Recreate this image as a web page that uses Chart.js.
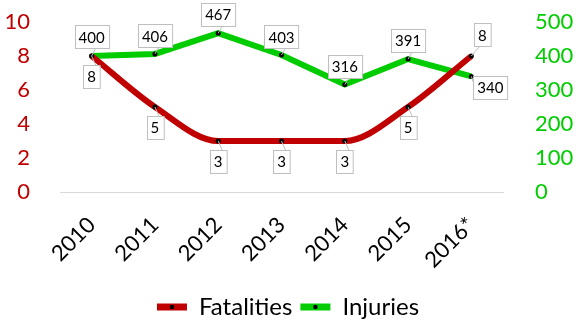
<!DOCTYPE html>
<html>
<head>
<meta charset="utf-8">
<script src="https://cdn.jsdelivr.net/npm/chart.js@4"></script>
<style>
  html, body { margin: 0; padding: 0; background: #fff; }
  #wrap { width: 576px; height: 336px; }
</style>
</head>
<body>
<div id="wrap"><canvas id="myChart"></canvas></div>
<script>
// data
const years = ['2010', '2011', '2012', '2013', '2014', '2015', '2016*'];
const fatalities = [8, 5, 3, 3, 3, 5, 8];
const injuries = [400, 406, 467, 403, 316, 391, 340];
const leftTicks = [0, 2, 4, 6, 8, 10];
const rightTicks = [0, 100, 200, 300, 400, 500];

const RED = '#C00000';
const GREEN = '#00CC00';
const FONT = 'Lato, "Open Sans", sans-serif';

// label offsets (dx, dy) from the point, per dataset
const labelPos = [
  [[0, 20], [0, 20], [0, 20], [0, 20], [0, 20], [0, 20], [11, -21]],
  [[0, -19], [0, -18], [0, -19], [0, -18], [0, -18], [0, -19], [19, 11]]
];

// callout boxes with values + dots on the legend lines
const calloutPlugin = {
  id: 'callouts',
  afterDatasetsDraw(chart) {
    const ctx = chart.ctx;
    ctx.save();
    ctx.font = '15px ' + FONT;
    ctx.textAlign = 'center';
    ctx.textBaseline = 'middle';
    chart.data.datasets.forEach((ds, di) => {
      const meta = chart.getDatasetMeta(di);
      meta.data.forEach((pt, i) => {
        const txt = String(ds.data[i]);
        const w = ctx.measureText(txt).width + 8;
        const h = 23;
        const cx = pt.x + labelPos[di][i][0];
        const cy = pt.y + labelPos[di][i][1];
        const left = Math.round(cx - w / 2), top = Math.round(cy - h / 2);
        ctx.strokeStyle = '#bfbfbf';
        ctx.lineWidth = 1;
        ctx.beginPath();
        const ex = Math.max(left + 2, Math.min(left + w - 2, pt.x));
        const ey = pt.y < top ? top : top + h;
        ctx.moveTo(pt.x, pt.y);
        ctx.lineTo(ex + (pt.x <= cx ? 4 : -4), ey);
        ctx.stroke();
        ctx.fillStyle = '#fff';
        ctx.fillRect(left, top, w, h);
        ctx.strokeRect(left + 0.5, top + 0.5, w, h);
        ctx.fillStyle = '#000';
        ctx.fillText(txt, cx, cy + 1);
      });
    });
    ctx.restore();
  },
  afterDraw(chart) {
    const lg = chart.legend;
    if (!lg || !lg.legendHitBoxes) return;
    const ctx = chart.ctx;
    ctx.save();
    ctx.fillStyle = '#000';
    lg.legendHitBoxes.forEach(b => {
      ctx.beginPath();
      ctx.arc(b.left + 15, b.top + b.height / 2, 2.2, 0, Math.PI * 2);
      ctx.fill();
    });
    ctx.restore();
  }
};

const data = {
  labels: years,
  datasets: [
    {
      label: 'Fatalities',
      data: fatalities,
      yAxisID: 'y',
      borderColor: RED,
      backgroundColor: RED,
      borderWidth: 6,
      cubicInterpolationMode: 'monotone',
      pointRadius: 2.5,
      pointBackgroundColor: '#000',
      pointBorderColor: '#000',
      pointBorderWidth: 0
    },
    {
      label: 'Injuries',
      data: injuries,
      yAxisID: 'y1',
      borderColor: GREEN,
      backgroundColor: GREEN,
      borderWidth: 6,
      tension: 0,
      pointRadius: 2.5,
      pointBackgroundColor: '#000',
      pointBorderColor: '#000',
      pointBorderWidth: 0
    }
  ]
};

const config = {
  type: 'line',
  data: data,
  options: {
    responsive: true,
    maintainAspectRatio: false,
    animation: false,
    layout: { padding: { top: 22, bottom: 7, left: 0, right: 0 } },
    plugins: {
      legend: {
        position: 'bottom',
        labels: {
          font: { family: FONT, size: 24 },
          color: '#000',
          boxWidth: 30,
          boxHeight: 7,
          useBorderRadius: true,
          borderRadius: 3.5,
          padding: 8,
          generateLabels(chart) {
            return chart.data.datasets.map((ds, i) => ({
              text: ds.label,
              fillStyle: ds.borderColor,
              strokeStyle: ds.borderColor,
              lineWidth: 0,
              fontColor: '#000',
              hidden: false,
              datasetIndex: i
            }));
          }
        }
      },
      tooltip: { enabled: false }
    },
    scales: {
      x: {
        offset: true,
        grid: { display: false, drawTicks: false },
        border: { display: true, color: '#d9d9d9', width: 1 },
        ticks: {
          color: '#000',
          font: { family: FONT, size: 22 },
          maxRotation: 45,
          minRotation: 45,
          padding: 20
        },
        afterFit(s) { s.height = 95; s.paddingLeft = 0; s.paddingRight = 0; }
      },
      y: {
        position: 'left',
        min: 0, max: 10,
        afterBuildTicks(s) { s.ticks = leftTicks.map(v => ({ value: v })); },
        grid: { display: false },
        border: { display: false },
        ticks: { color: RED, font: { family: FONT, size: 22 }, padding: 22 },
        afterFit(s) { s.width = 60; s.paddingTop = 0; s.paddingBottom = 0; }
      },
      y1: {
        position: 'right',
        min: 0, max: 500,
        afterBuildTicks(s) { s.ticks = rightTicks.map(v => ({ value: v })); },
        grid: { display: false },
        border: { display: false },
        ticks: { color: GREEN, font: { family: FONT, size: 22 }, padding: 24 },
        afterFit(s) { s.width = 73; s.paddingTop = 0; s.paddingBottom = 0; }
      }
    }
  },
  plugins: [calloutPlugin]
};

var graph = new Chart(document.getElementById('myChart'), config);
</script>
</body>
</html>
